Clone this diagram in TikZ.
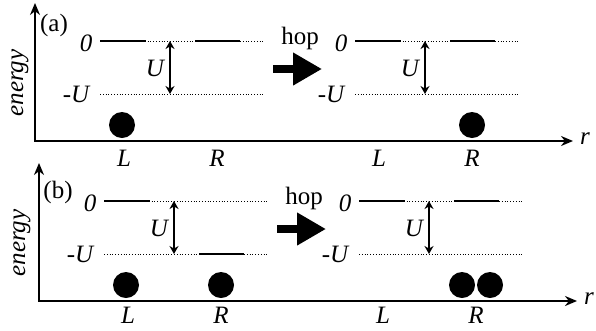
\documentclass[tikz,border=0pt]{standalone}
\usepackage{fontspec}
\setmainfont{Liberation Serif}
\usetikzlibrary{arrows.meta,positioning}

\begin{document}
\begin{tikzpicture}[x=1pt,y=-1pt,
  txt/.style={font=\fontsize{25}{28}\selectfont,inner sep=0pt},
  sym/.style={font=\fontsize{25}{28}\selectfont\itshape,inner sep=0pt},
  level/.style={line width=2.4pt},
  guide/.style={dotted,line width=0.8pt},
  ball/.style={circle,fill=black,minimum size=26pt,inner sep=0pt},
  axis/.style={line width=2.4pt,line join=miter,{Stealth[length=12pt,width=10pt]}-{Stealth[length=12pt,width=10pt]}},
  gap/.style={line width=1.6pt,{Stealth[length=8pt,width=9pt]}-{Stealth[length=8pt,width=9pt]}},
  hoparrow/.style={line width=8pt,-{Triangle[length=29pt,width=31pt]}}]
\useasboundingbox (0,0) rectangle (596,330);

% (a) one electron hops from L to R
\begin{scope}[name prefix=a-]
\coordinate (ytip) at (35,3);
\coordinate (org) at (35,141);
\coordinate (xtip) at (573,141);
\draw[axis] (ytip) -- (org) -- (xtip);
\node[txt] (tag) at (54,25) {(a)};
\node[sym,rotate=90] (energy) at (20,83) {energy};
\node[sym] (r) at (585,139) {r};
\node[txt] (hop) at (300,38) {hop};
\coordinate (hopA) at (273,69);
\coordinate (hopB) at (322,69);
\draw[hoparrow] (hopA) -- (hopB);
\end{scope}
\begin{scope}[name prefix=a1-]
\coordinate (t0) at (100,41); \coordinate (t1) at (264,41);
\coordinate (b0) at (100,94); \coordinate (b1) at (264,94);
\draw[guide] (t0) -- (t1);
\draw[guide] (b0) -- (b1);
\coordinate (Ls) at (100,41); \coordinate (Le) at (146,41);
\coordinate (Rs) at (195,41); \coordinate (Re) at (240,41);
\draw[level] (Ls) -- (Le);
\draw[level] (Rs) -- (Re);
\coordinate (gapT) at (170,41); \coordinate (gapB) at (170,94);
\draw[gap] (gapT) -- (gapB);
\node[sym] (zero) at (86,43) {0};
\node[sym] (minusU) at (76,94) {-U};
\node[sym] (U) at (155,68) {U};
\node[ball] (e) at (122,125) {};
\node[sym] (L) at (124,158) {L};
\node[sym] (R) at (217,158) {R};
\end{scope}
\begin{scope}[xshift=255,name prefix=a2-]
\coordinate (t0) at (100,41); \coordinate (t1) at (264,41);
\coordinate (b0) at (100,94); \coordinate (b1) at (264,94);
\draw[guide] (t0) -- (t1);
\draw[guide] (b0) -- (b1);
\coordinate (Ls) at (100,41); \coordinate (Le) at (146,41);
\coordinate (Rs) at (195,41); \coordinate (Re) at (240,41);
\draw[level] (Ls) -- (Le);
\draw[level] (Rs) -- (Re);
\coordinate (gapT) at (170,41); \coordinate (gapB) at (170,94);
\draw[gap] (gapT) -- (gapB);
\node[sym] (zero) at (86,43) {0};
\node[sym] (minusU) at (76,94) {-U};
\node[sym] (U) at (155,68) {U};
\node[ball] (e) at (217,125) {};
\node[sym] (L) at (124,158) {L};
\node[sym] (R) at (217,158) {R};
\end{scope}

% (b) second electron joins R
\begin{scope}[shift={(4,160)},name prefix=b-]
\coordinate (ytip) at (35,3);
\coordinate (org) at (35,141);
\coordinate (xtip) at (573,141);
\draw[axis] (ytip) -- (org) -- (xtip);
\node[txt] (tag) at (54,32) {(b)};
\node[sym,rotate=90] (energy) at (18,83) {energy};
\node[sym] (r) at (585,139) {r};
\node[txt] (hop) at (300,38) {hop};
\coordinate (hopA) at (273,69);
\coordinate (hopB) at (322,69);
\draw[hoparrow] (hopA) -- (hopB);
\end{scope}
\begin{scope}[shift={(4,160)},name prefix=b1-]
\coordinate (t0) at (100,41); \coordinate (t1) at (264,41);
\coordinate (b0) at (100,94); \coordinate (b1) at (264,94);
\draw[guide] (t0) -- (t1);
\draw[guide] (b0) -- (b1);
\coordinate (Ls) at (100,41); \coordinate (Le) at (146,41);
\coordinate (Rs) at (195,94); \coordinate (Re) at (240,94);
\draw[level] (Ls) -- (Le);
\draw[level] (Rs) -- (Re);
\coordinate (gapT) at (170,41); \coordinate (gapB) at (170,94);
\draw[gap] (gapT) -- (gapB);
\node[sym] (zero) at (86,43) {0};
\node[sym] (minusU) at (76,94) {-U};
\node[sym] (U) at (155,68) {U};
\node[ball] (eL) at (122,125) {};
\node[ball] (eR) at (217,125) {};
\node[sym] (L) at (124,155) {L};
\node[sym] (R) at (217,155) {R};
\end{scope}
\begin{scope}[shift={(259,160)},name prefix=b2-]
\coordinate (t0) at (100,41); \coordinate (t1) at (264,41);
\coordinate (b0) at (100,94); \coordinate (b1) at (264,94);
\draw[guide] (t0) -- (t1);
\draw[guide] (b0) -- (b1);
\coordinate (Ls) at (100,41); \coordinate (Le) at (146,41);
\coordinate (Rs) at (195,41); \coordinate (Re) at (240,41);
\draw[level] (Ls) -- (Le);
\draw[level] (Rs) -- (Re);
\coordinate (gapT) at (170,41); \coordinate (gapB) at (170,94);
\draw[gap] (gapT) -- (gapB);
\node[sym] (zero) at (86,43) {0};
\node[sym] (minusU) at (76,94) {-U};
\node[sym] (U) at (155,68) {U};
\node[ball] (e1) at (203,125) {};
\node[ball] (e2) at (231,125) {};
\node[sym] (L) at (124,155) {L};
\node[sym] (R) at (217,155) {R};
\end{scope}
\end{tikzpicture}
\end{document}
